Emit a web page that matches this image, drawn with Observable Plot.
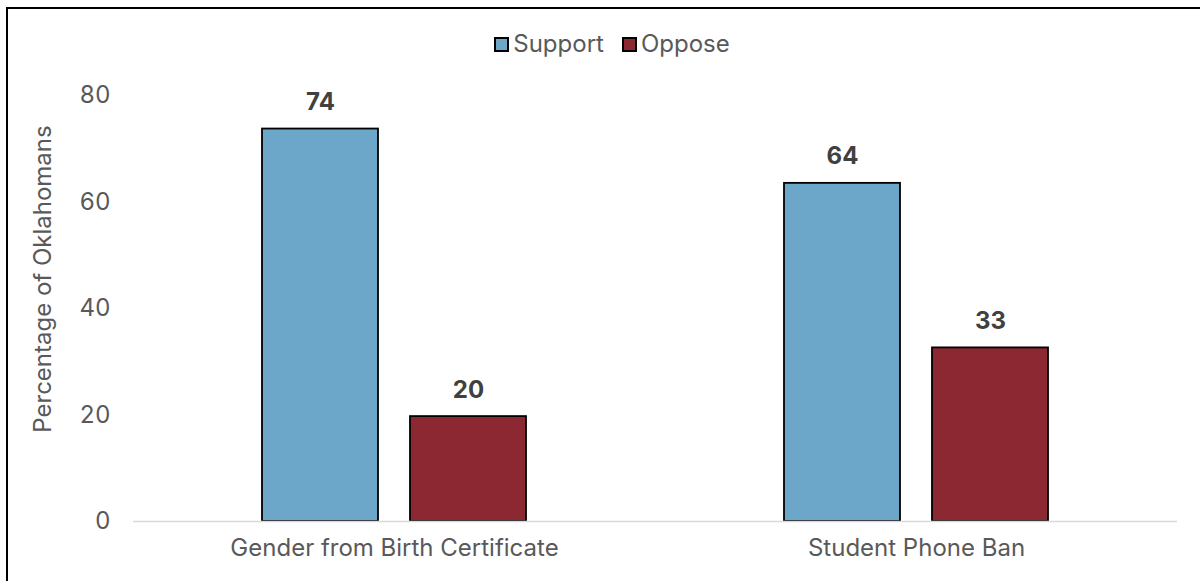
<!DOCTYPE html>
<html>
<head>
<meta charset="utf-8">
<script src="https://cdn.jsdelivr.net/npm/d3@7"></script>
<script src="https://cdn.jsdelivr.net/npm/@observablehq/plot@0.6"></script>
<style>
  html, body { margin: 0; padding: 0; background: #fff; overflow: hidden; width: 1200px; height: 581px; }
  body { position: relative; font-family: Inter, "Noto Sans", sans-serif; }
  #frame { position: absolute; left: 6px; top: 7px; width: 1300px; height: 700px; border-left: 2px solid #000; border-top: 2px solid #000; pointer-events: none; }
  #legend { position: absolute; top: 23px; left: 0; width: 1200px; height: 40px; display: flex; justify-content: center; align-items: center; padding-left: 24px; box-sizing: border-box; font-size: 24px; color: #595959; }
  .item { display: flex; align-items: center; margin: 0 9px; }
  .sw { width: 11px; height: 11px; border: 2px solid #000; margin-right: 4px; margin-top: 3px; }
  #chart { position: absolute; top: 70px; left: 0; }
  #ylabel { position: absolute; left: 42px; top: 279px; transform: translate(-50%, -50%) rotate(-90deg); white-space: nowrap; font-size: 24px; color: #595959; }
</style>
</head>
<body>
<div id="legend"></div>
<div id="chart"></div>
<div id="ylabel"></div>
<div id="frame"></div>
<script>
const questions = ["Gender from Birth Certificate", "Student Phone Ban"];
const responses = ["Support", "Oppose"];
const supportValues = [73.7, 63.5];
const opposeValues = [19.7, 32.6];
const yTicks = [0, 20, 40, 60, 80];
const yTitle = "Percentage of Oklahomans";
const colors = ["#6CA6C8", "#8B2832"];

const data = questions.flatMap((q, i) => [
  {question: q, response: responses[0], value: supportValues[i]},
  {question: q, response: responses[1], value: opposeValues[i]}
]);

const legend = document.getElementById("legend");
responses.forEach((r, i) => {
  const item = document.createElement("div");
  item.className = "item";
  const sw = document.createElement("div");
  sw.className = "sw";
  sw.style.background = colors[i];
  const t = document.createElement("span");
  t.textContent = r;
  item.appendChild(sw);
  item.appendChild(t);
  legend.appendChild(item);
});
document.getElementById("ylabel").textContent = yTitle;

const chart = Plot.plot({
  width: 1200,
  height: 511,
  marginTop: 25,
  marginBottom: 60,
  marginLeft: 133,
  marginRight: 23,
  style: {fontFamily: "Inter, 'Noto Sans', sans-serif", fontSize: "24px", color: "#595959", background: "transparent", overflow: "visible"},
  fx: {domain: questions, paddingInner: 0, paddingOuter: 0, axis: "bottom", label: null, tickSize: 0, tickPadding: 17},
  x: {domain: responses, axis: null, paddingInner: 0.215, paddingOuter: 0.86},
  y: {domain: [0, 80], ticks: yTicks, tickSize: 0, tickPadding: 23, label: null},
  color: {domain: responses, range: colors},
  marks: [
    Plot.barY(data, {fx: "question", x: "response", y: "value", fill: "response", stroke: "#000", strokeWidth: 1.8}),
    Plot.ruleY([0], {stroke: "#d9d9d9", strokeWidth: 1.5}),
    Plot.text(data, {fx: "question", x: "response", y: "value", text: d => d3.format(".0f")(d.value), dy: -19, lineAnchor: "bottom", fontWeight: "bold", fill: "#404040", fontSize: 24})
  ]
});
document.getElementById("chart").appendChild(chart);
</script>
</body>
</html>
